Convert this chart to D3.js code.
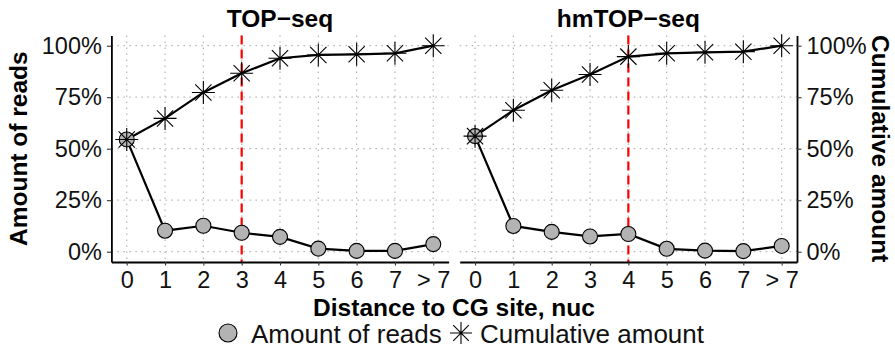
<!DOCTYPE html>
<html><head><meta charset="utf-8">
<script src="https://cdn.jsdelivr.net/npm/d3@7"></script>
<style>body{margin:0;background:#fff;} text{font-family:"Liberation Sans",Arial,sans-serif;}</style>
</head><body>
<svg id="c" width="895" height="360"></svg>
<script>
const categories = ["0","1","2","3","4","5","6","7","> 7"];
const panelTitles = ["TOP\u2212seq","hmTOP\u2212seq"];
const topAmount = [54.5,10.2,12.6,9.2,7.2,1.5,0.4,0.4,3.7];
const topCumulative = [54.5,64.7,77.3,86.6,93.9,95.5,95.8,96.3,100];
const hmAmount = [56.1,12.5,9.6,7.4,8.6,1.4,0.5,0.3,2.8];
const hmCumulative = [56.1,68.7,78.4,86.0,94.7,96.3,96.8,97.1,100];
const cutoffs = [3,4];
const yTicks = [0,25,50,75,100];
const yTickLabels = ["0%","25%","50%","75%","100%"];
const legendLabels = ["Amount of reads","Cumulative amount"];

const FONT = "Liberation Sans, Arial, sans-serif";
const svg = d3.select("#c");
const panels = [
  {x0:111.4, x1:448.6, title:panelTitles[0], amount:topAmount, cum:topCumulative, cut:cutoffs[0], side:"left"},
  {x0:459.7, x1:797.0, title:panelTitles[1], amount:hmAmount, cum:hmCumulative, cut:cutoffs[1], side:"right"}
];
const yTop = 35.4, yBot = 262.0;
const y = d3.scaleLinear().domain([-5,105]).range([yBot,yTop]);

function star(g, cx, cy, a){
  const b = a/Math.SQRT2;
  const p = d3.path();
  p.moveTo(cx-a,cy); p.lineTo(cx+a,cy);
  p.moveTo(cx,cy-a); p.lineTo(cx,cy+a);
  p.moveTo(cx-b,cy-b); p.lineTo(cx+b,cy+b);
  p.moveTo(cx-b,cy+b); p.lineTo(cx+b,cy-b);
  g.append("path").attr("d",p.toString()).attr("stroke","#000").attr("stroke-width",1.1).attr("fill","none");
}

panels.forEach(P=>{
  const x = d3.scaleLinear().domain([-0.4,8.4]).range([P.x0,P.x1]);
  const g = svg.append("g");
  // grid
  categories.forEach((c,i)=>{
    g.append("line").attr("x1",x(i)).attr("x2",x(i)).attr("y1",yTop).attr("y2",yBot)
      .attr("stroke","#b5b5b5").attr("stroke-width",1.2).attr("stroke-dasharray","1.5,4.5");
  });
  yTicks.forEach(t=>{
    g.append("line").attr("x1",P.x0).attr("x2",P.x1).attr("y1",y(t)).attr("y2",y(t))
      .attr("stroke","#b5b5b5").attr("stroke-width",1.2).attr("stroke-dasharray","1.5,4.5");
  });
  // cutoff
  g.append("line").attr("x1",x(P.cut)).attr("x2",x(P.cut)).attr("y1",yTop).attr("y2",yBot)
    .attr("stroke","#ff0000").attr("stroke-width",2.2).attr("stroke-dasharray","9,5");
  // axes
  const xAxis = d3.axisBottom(x).tickValues(d3.range(categories.length)).tickFormat(i=>categories[i]).tickSizeInner(3.5).tickSizeOuter(0).tickPadding(6);
  const xa = g.append("g").attr("transform",`translate(0,${yBot})`).call(xAxis);
  xa.select(".domain").attr("stroke","#000").attr("stroke-width",1.8);
  xa.selectAll(".tick line").attr("stroke","#333").attr("stroke-width",1.1);
  xa.selectAll("text").attr("font-size",23.5).attr("fill","#111").attr("font-family",FONT);
  const yAxis = (P.side==="left"? d3.axisLeft(y) : d3.axisRight(y)).tickValues(yTicks).tickFormat((d,i)=>yTickLabels[i]).tickSizeInner(4.5).tickSizeOuter(0).tickPadding(5);
  const ya = g.append("g").attr("transform",`translate(${P.side==="left"?P.x0:P.x1},0)`).call(yAxis);
  ya.select(".domain").attr("stroke","#000").attr("stroke-width",1.8);
  ya.selectAll(".tick line").attr("stroke","#333").attr("stroke-width",1.1);
  ya.selectAll("text").attr("font-size",23.5).attr("fill","#111").attr("font-family",FONT);
  // lines
  const line = d3.line().x((d,i)=>x(i)).y(d=>y(d));
  g.append("path").attr("d",line(P.amount)).attr("fill","none").attr("stroke","#000").attr("stroke-width",2.2);
  g.append("path").attr("d",line(P.cum)).attr("fill","none").attr("stroke","#000").attr("stroke-width",2.2);
  P.amount.forEach((v,i)=>{
    g.append("circle").attr("cx",x(i)).attr("cy",y(v)).attr("r",7.5).attr("fill","#b3b3b3").attr("stroke","#000").attr("stroke-width",1.1);
  });
  P.cum.forEach((v,i)=> star(g,x(i),y(v),11.5));
  // title
  svg.append("text").attr("x",(P.x0+P.x1)/2).attr("y",26.7).attr("text-anchor","middle")
    .attr("font-size",24.5).attr("font-weight","bold").text(P.title);
});

// axis titles
svg.append("text").attr("transform",`translate(27,${(yTop+yBot)/2}) rotate(-90)`).attr("text-anchor","middle")
  .attr("font-size",24.5).attr("font-weight","bold").text("Amount of reads");
svg.append("text").attr("transform",`translate(872,${(yTop+yBot)/2}) rotate(90)`).attr("text-anchor","middle")
  .attr("font-size",24.5).attr("font-weight","bold").text("Cumulative amount");
svg.append("text").attr("x",454).attr("y",316).attr("text-anchor","middle")
  .attr("font-size",24.5).attr("font-weight","bold").text("Distance to CG site, nuc");

// legend
const lg = svg.append("g");
lg.append("circle").attr("cx",228).attr("cy",333).attr("r",9).attr("fill","#b3b3b3").attr("stroke","#000").attr("stroke-width",1.1);
lg.append("text").attr("x",251).attr("y",342.5).attr("font-size",26).attr("fill","#111").text(legendLabels[0]);
star(lg,461,333,11);
lg.append("text").attr("x",480).attr("y",342.5).attr("font-size",26).attr("fill","#111").text(legendLabels[1]);
</script>
</body></html>
